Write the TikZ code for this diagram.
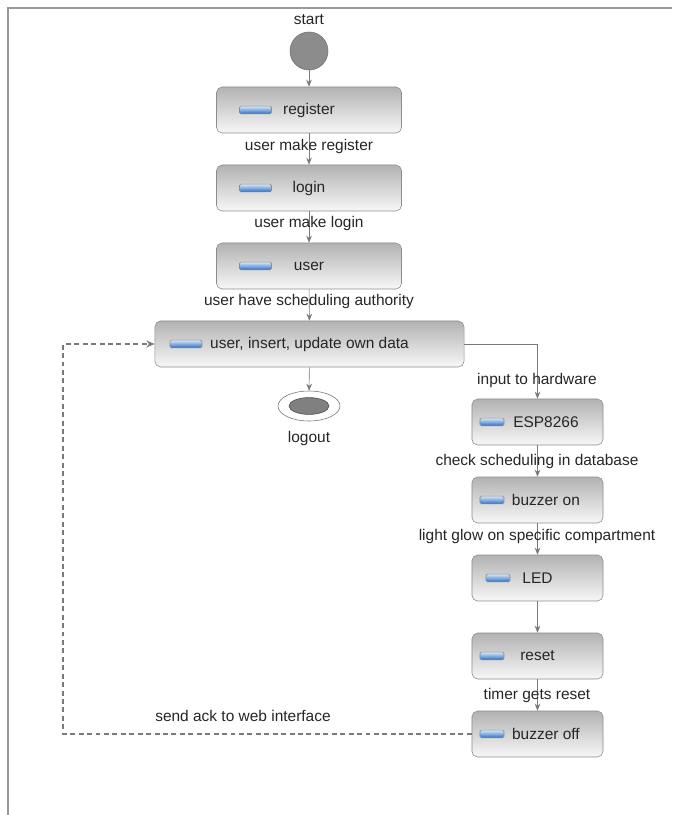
\documentclass[tikz,border=0pt]{standalone}
\usepackage{fontspec}
\setmainfont{Liberation Sans}
\usetikzlibrary{positioning,shapes.geometric,arrows.meta}
\definecolor{linegray}{HTML}{7A7A7A}
\definecolor{iconlight}{HTML}{D4E6FA}
\definecolor{icondark}{HTML}{2F6FC4}
\begin{document}
\begin{tikzpicture}[x=0.025cm, y=-0.025cm,
        every node/.style={font=\fontsize{11}{13}\selectfont, text=black!85},
        act/.style={rectangle, rounded corners=4pt, draw=black!45, top color=black!30, bottom color=black!3, minimum width=4.625cm, minimum height=1.15cm},
        act_wide/.style={act, minimum width=7.725cm},
        act_hw/.style={act, minimum width=3.275cm},
        act_icon/.style={rectangle, rounded corners=1pt, draw=black!45, top color=iconlight, bottom color=icondark, minimum width=0.8cm, minimum height=0.19cm, inner sep=0pt},
        act_icon_hw/.style={act_icon, minimum width=0.6cm},
        start_node/.style={circle, draw=black!55, fill=black!45, minimum size=0.95cm, inner sep=0pt},
        end_outer/.style={ellipse, draw=black!55, fill=white, minimum width=1.55cm, minimum height=0.75cm, inner sep=0pt},
        end_inner/.style={ellipse, draw=black!70, fill=black!50, minimum width=1.0cm, minimum height=0.42cm, inner sep=0pt},
        flow/.style={draw=linegray, -{Stealth[length=5pt, width=4pt]}},
        back_flow/.style={draw=linegray, line width=1pt, dash pattern=on 3.5pt off 2.5pt, -{Stealth[length=6pt, width=5pt]}}]

        \useasboundingbox (0,0) rectangle (672,815);
        % Frame
        \draw[black!40, line width=1.4pt] (8,815) -- (8,8) -- (672,8);

        % Web side
        \node[start_node] (start) at (309,51) {};
        \node[act] (reg) at (309,110) {register};
        \node[act] (login) at (309,188) {login};
        \node[act] (user) at (309,266) {user};
        \node[act_wide] (own) at (309.5,344) {user, insert, update own data};
        \node[end_outer] (logout) at (309,406) {};
        \node[end_inner] (logout_in) at (logout.center) {};

        % Hardware side
        \node[act_hw] (esp) at (537.5,422) {\hspace{12pt}ESP8266};
        \node[act_hw] (bzon) at (537.5,500) {\hspace{12pt}buzzer on};
        \node[act_hw] (led) at (537.5,578) {LED};
        \node[act_hw] (rst) at (537.5,656) {reset};
        \node[act_hw] (bzoff) at (537.5,734) {\hspace{12pt}buzzer off};
        \coordinate (loop) at (63,344);

        %Icons
        \node[act_icon, right=0.575cm of reg.west] (reg_icon) {};
        \node[act_icon, right=0.575cm of login.west] (login_icon) {};
        \node[act_icon, right=0.575cm of user.west] (user_icon) {};
        \node[act_icon, right=0.375cm of own.west] (own_icon) {};
        \node[act_icon_hw, right=0.2cm of esp.west] (esp_icon) {};
        \node[act_icon_hw, right=0.2cm of bzon.west] (bzon_icon) {};
        \node[act_icon_hw, right=0.35cm of led.west] (led_icon) {};
        \node[act_icon_hw, right=0.2cm of rst.west] (rst_icon) {};
        \node[act_icon_hw, right=0.2cm of bzoff.west] (bzoff_icon) {};

        %Links
        \draw[flow] (start) -- (reg);
        \draw[flow] (reg) -- (login);
        \draw[flow] (login) -- (user);
        \draw[flow] (user) -- (own);
        \draw[flow] (own) -- (logout);
        \draw[flow] (own.east) -| (esp.north);
        \draw[flow] (esp) -- (bzon);
        \draw[flow] (bzon) -- (led);
        \draw[flow] (led) -- (rst);
        \draw[flow] (rst) -- (bzoff);
        \draw[back_flow] (bzoff.west) -| (loop) -- (own.west);

        % Labels
        \node (start_lbl) at (309,20) {start};
        \node (reg_lbl) at (309,146) {user make register};
        \node (login_lbl) at (309,223) {user make login};
        \node (user_lbl) at (309,301) {user have scheduling authority};
        \node (logout_lbl) at (309,438) {logout};
        \node (hw_lbl) at (537,380) {input to hardware};
        \node (esp_lbl) at (537,461) {check scheduling in database};
        \node (bzon_lbl) at (537,536) {light glow on specific compartment};
        \node (rst_lbl) at (537,695) {timer gets reset};
        \node (ack_lbl) at (243,716) {send ack to web interface};
    \end{tikzpicture}
\end{document}
